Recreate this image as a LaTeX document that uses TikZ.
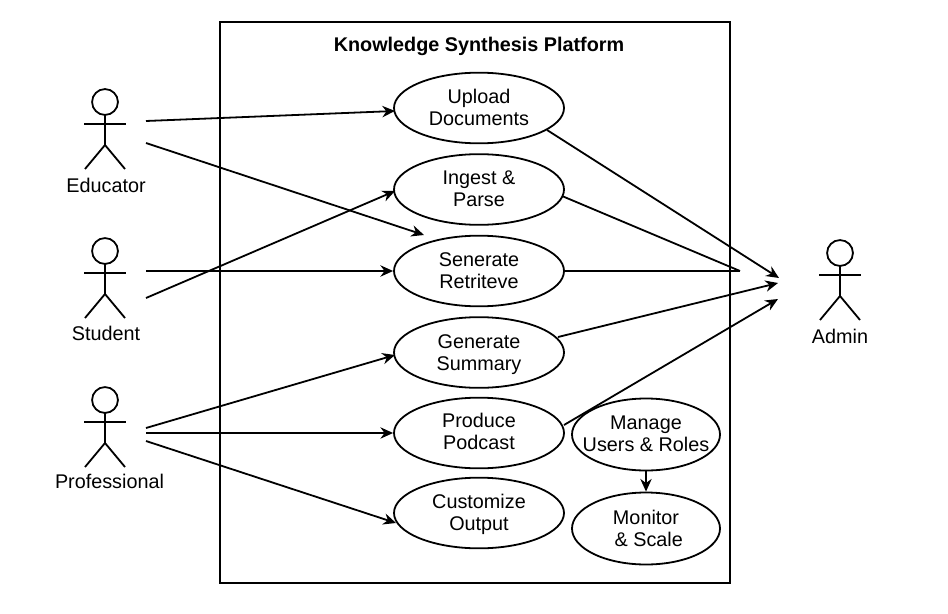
\documentclass[tikz,border=0pt]{standalone}
\usepackage{fontspec}
\setmainfont{Liberation Sans}
\usetikzlibrary{shapes.geometric,arrows.meta}
\tikzset{
  uc/.style={draw,ellipse,line width=1.35pt,minimum width=127.5pt,minimum height=53pt,inner xsep=-15pt,inner ysep=-3pt,align=center,font=\fontsize{14.85}{16.5}\selectfont},
  ucs/.style={uc,minimum width=111pt,minimum height=54pt,inner xsep=-18pt},
  lab/.style={font=\fontsize{14.85}{17}\selectfont,inner sep=0pt},
  arr/.style={-{Stealth[length=9.5pt,width=8.5pt]},line width=1.35pt},
  stick/.style={line width=1.35pt},
}
\newcommand{\actor}[2]{%
  \begin{scope}[shift={(#1,#2)}]
  \draw[stick] (0,0) circle (9.7pt);
  \draw[stick] (0,13) -- (0,43);
  \draw[stick] (-21,22) -- (21,22);
  \draw[stick] (-20,67) -- (0,43) -- (20,67);
  \end{scope}
}
\newcommand{\shiftline}[2]{\smash{\raisebox{#1}{#2}}}
\begin{document}
\begin{tikzpicture}[x=0.75pt,y=-0.75pt]
\useasboundingbox (0,0) rectangle (948,613);
\fill[white] (0,0) rectangle (948,613);
\draw[line width=1.5pt] (220,22) rectangle (730,583);
\node[font=\bfseries\fontsize{14.85}{17}\selectfont,inner sep=0pt] (title) at (479,46) {Knowledge Synthesis Platform};
\node[uc] (upload) at (479,108) {\shiftline{-5.05pt}{Upload}\\\shiftline{-5.05pt}{Documents}};
\node[uc] (ingest) at (479,189.5) {\shiftline{-4.65pt}{Ingest \&}\\\shiftline{-4.65pt}{Parse}};
\node[uc] (retr) at (479,271) {\shiftline{-5.05pt}{Senerate}\\\shiftline{-5.05pt}{Retriteve}};
\node[uc] (summ) at (479,352.5) {\shiftline{-5.4pt}{Generate}\\\shiftline{-5.4pt}{Summary}};
\node[uc] (pod) at (479,433) {\shiftline{-4.25pt}{Produce}\\\shiftline{-4.25pt}{Podcast}};
\node[uc] (cust) at (479,513) {\shiftline{-5.05pt}{Customize}\\\shiftline{-5.05pt}{Output}};
\node[ucs] (manage) at (646,434.5) {\shiftline{-4.65pt}{Manage}\\\shiftline{-4.65pt}{Users \& Roles}};
\node[ucs] (monitor) at (646,528.5) {\shiftline{-5.4pt}{Monitor}\\\shiftline{-5.4pt}{\ \& Scale}};
\actor{105}{102}
\actor{105}{251}
\actor{105}{400}
\actor{840}{253}
\node[lab] (educator) at (106,185.5) {Educator};
\node[lab] (student) at (106,333.5) {Student};
\node[lab] (prof) at (109.5,481.5) {Professional};
\node[lab] (admin) at (840,336.5) {Admin};
\coordinate (e1) at (146,121);
\coordinate (e2) at (146,143);
\coordinate (s1) at (146,271);
\coordinate (s2) at (146,298);
\coordinate (p1) at (146,428);
\coordinate (p2) at (146,433);
\coordinate (p3) at (146,441);
\coordinate (a1) at (779,278);
\coordinate (a3) at (778,283);
\coordinate (a4) at (778,299);
\coordinate (a2) at (740,271);
\coordinate (rt) at (424,235);
\coordinate (u2) at (547,130);
\coordinate (i2) at (562,196);
\coordinate (s3) at (558,337);
\coordinate (p4) at (564,425);
\coordinate (u1) at (395,111);
\coordinate (i1) at (395,191);
\coordinate (m1) at (395,355);
\coordinate (c1) at (396,523);
\draw[arr] (e1) -- (u1);
\draw[arr] (e2) -- (rt);
\draw[arr,line width=1.6pt] (s1) -- (retr.west);
\draw[arr] (s2) -- (i1);
\draw[arr] (p1) -- (m1);
\draw[arr] (p2) -- (pod.west);
\draw[arr] (p3) -- (c1);
\draw[arr] (u2) -- (a1);
\draw[stick] (i2) -- (a2);
\draw[stick] (retr.east) -- (a2);
\draw[arr] (s3) -- (a3);
\draw[arr] (p4) -- (a4);
\draw[arr] (manage.south) -- (monitor.north);
\end{tikzpicture}
\end{document}
